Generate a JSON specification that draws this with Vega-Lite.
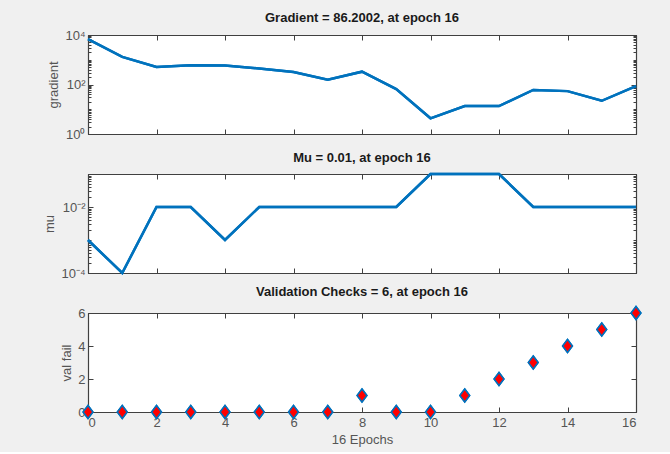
{
  "$schema": "https://vega.github.io/schema/vega-lite/v6.json",
  "background": "#f0f0f0",
  "padding": {"left": 43, "top": 11, "right": 30, "bottom": 5},
  "spacing": 40,
  "bounds": "flush",
  "data": {"values": [
    {"epoch": 0, "gradient": 6800, "mu": 0.001, "valfail": 0},
    {"epoch": 1, "gradient": 1300, "mu": 0.0001, "valfail": 0},
    {"epoch": 2, "gradient": 510, "mu": 0.01, "valfail": 0},
    {"epoch": 3, "gradient": 600, "mu": 0.01, "valfail": 0},
    {"epoch": 4, "gradient": 580, "mu": 0.001, "valfail": 0},
    {"epoch": 5, "gradient": 440, "mu": 0.01, "valfail": 0},
    {"epoch": 6, "gradient": 320, "mu": 0.01, "valfail": 0},
    {"epoch": 7, "gradient": 155, "mu": 0.01, "valfail": 0},
    {"epoch": 8, "gradient": 330, "mu": 0.01, "valfail": 1},
    {"epoch": 9, "gradient": 65, "mu": 0.01, "valfail": 0},
    {"epoch": 10, "gradient": 4.3, "mu": 0.1, "valfail": 0},
    {"epoch": 11, "gradient": 13.4, "mu": 0.1, "valfail": 1},
    {"epoch": 12, "gradient": 13.5, "mu": 0.1, "valfail": 2},
    {"epoch": 13, "gradient": 60, "mu": 0.01, "valfail": 3},
    {"epoch": 14, "gradient": 54, "mu": 0.01, "valfail": 4},
    {"epoch": 15, "gradient": 22, "mu": 0.01, "valfail": 5},
    {"epoch": 16, "gradient": 86.2002, "mu": 0.01, "valfail": 6}
  ]},
  "config": {
    "view": {"stroke": "#404040", "strokeWidth": 1, "fill": "white"},
    "axis": {
      "domainColor": "#404040", "tickColor": "#404040", "domainWidth": 1.2,
      "labelColor": "#555555", "titleColor": "#555555",
      "labelFont": "Liberation Sans", "titleFont": "Liberation Sans",
      "labelFontSize": 13, "titleFontSize": 13, "titleFontWeight": "normal",
      "grid": false, "tickSize": -5, "labelPadding": 8, "titlePadding": 4
    },
    "title": {"font": "Liberation Sans", "fontSize": 13, "fontWeight": "bold", "color": "#1a1a1a", "offset": 4}
  },
  "vconcat": [
    {
      "width": 548, "height": 99,
      "title": "Gradient = 86.2002, at epoch 16",
      "resolve": {"axis": {"x": "independent", "y": "independent"}},
      "layer": [
        {
          "mark": {"type": "line", "color": "#0072BD", "strokeWidth": 2.5},
          "encoding": {
            "x": {"field": "epoch", "type": "quantitative", "scale": {"domain": [0, 16], "nice": false},
                  "axis": {"orient": "bottom", "values": [0, 2, 4, 6, 8, 10, 12, 14, 16], "labels": false, "title": null}},
            "y": {"field": "gradient", "type": "quantitative", "scale": {"type": "log", "domain": [1, 10000], "nice": false},
                  "axis": {"orient": "left", "title": "gradient",
                           "values": [1, 2, 3, 4, 5, 6, 7, 8, 9, 10, 20, 30, 40, 50, 60, 70, 80, 90, 100, 200, 300, 400, 500, 600, 700, 800, 900, 1000, 2000, 3000, 4000, 5000, 6000, 7000, 8000, 9000, 10000],
                           "labelExpr": "datum.value == 1 ? '10⁰' : datum.value == 100 ? '10²' : datum.value == 10000 ? '10⁴' : ''",
                           "tickSize": {"condition": {"test": "datum.value == 1 || datum.value == 100 || datum.value == 10000", "value": -5}, "value": -3}}}
          }
        },
        {
          "mark": {"type": "line", "color": "#0072BD", "strokeWidth": 2.5},
          "encoding": {
            "x": {"field": "epoch", "type": "quantitative",
                  "axis": {"orient": "top", "values": [0, 2, 4, 6, 8, 10, 12, 14, 16], "labels": false, "title": null}},
            "y": {"field": "gradient", "type": "quantitative",
                  "axis": {"orient": "right", "title": null, "labels": false,
                           "values": [1, 2, 3, 4, 5, 6, 7, 8, 9, 10, 20, 30, 40, 50, 60, 70, 80, 90, 100, 200, 300, 400, 500, 600, 700, 800, 900, 1000, 2000, 3000, 4000, 5000, 6000, 7000, 8000, 9000, 10000],
                           "tickSize": {"condition": {"test": "datum.value == 1 || datum.value == 100 || datum.value == 10000", "value": -5}, "value": -3}}}
          }
        }
      ]
    },
    {
      "width": 548, "height": 99,
      "title": "Mu = 0.01, at epoch 16",
      "resolve": {"axis": {"x": "independent", "y": "independent"}},
      "layer": [
        {
          "mark": {"type": "line", "color": "#0072BD", "strokeWidth": 2.5},
          "encoding": {
            "x": {"field": "epoch", "type": "quantitative", "scale": {"domain": [0, 16], "nice": false},
                  "axis": {"orient": "bottom", "values": [0, 2, 4, 6, 8, 10, 12, 14, 16], "labels": false, "title": null}},
            "y": {"field": "mu", "type": "quantitative", "scale": {"type": "log", "domain": [0.0001, 0.1], "nice": false},
                  "axis": {"orient": "left", "title": "mu",
                           "values": [0.0001, 0.0002, 0.0003, 0.0004, 0.0005, 0.0006, 0.0007, 0.0008, 0.0009, 0.001, 0.002, 0.003, 0.004, 0.005, 0.006, 0.007, 0.008, 0.009, 0.01, 0.02, 0.03, 0.04, 0.05, 0.06, 0.07, 0.08, 0.09, 0.1],
                           "labelExpr": "datum.value == 0.0001 ? '10⁻⁴' : datum.value == 0.01 ? '10⁻²' : ''",
                           "tickSize": {"condition": {"test": "datum.value == 0.0001 || datum.value == 0.01", "value": -5}, "value": -3}}}
          }
        },
        {
          "mark": {"type": "line", "color": "#0072BD", "strokeWidth": 2.5},
          "encoding": {
            "x": {"field": "epoch", "type": "quantitative",
                  "axis": {"orient": "top", "values": [0, 2, 4, 6, 8, 10, 12, 14, 16], "labels": false, "title": null}},
            "y": {"field": "mu", "type": "quantitative",
                  "axis": {"orient": "right", "title": null, "labels": false,
                           "values": [0.0001, 0.0002, 0.0003, 0.0004, 0.0005, 0.0006, 0.0007, 0.0008, 0.0009, 0.001, 0.002, 0.003, 0.004, 0.005, 0.006, 0.007, 0.008, 0.009, 0.01, 0.02, 0.03, 0.04, 0.05, 0.06, 0.07, 0.08, 0.09, 0.1],
                           "tickSize": {"condition": {"test": "datum.value == 0.0001 || datum.value == 0.01", "value": -5}, "value": -3}}}
          }
        }
      ]
    },
    {
      "width": 548, "height": 99,
      "title": "Validation Checks = 6, at epoch 16",
      "resolve": {"axis": {"x": "independent", "y": "independent"}},
      "layer": [
        {
          "mark": {"type": "point", "shape": "M0,-1L0.75,0L0,1L-0.75,0Z", "size": 170, "filled": true, "fill": "#ff0000", "stroke": "#0072BD", "strokeWidth": 1.5, "opacity": 1},
          "encoding": {
            "x": {"field": "epoch", "type": "quantitative", "scale": {"domain": [0, 16], "nice": false},
                  "axis": {"orient": "bottom", "values": [0, 2, 4, 6, 8, 10, 12, 14, 16], "title": "16 Epochs", "labelPadding": 9, "titlePadding": 4}},
            "y": {"field": "valfail", "type": "quantitative", "scale": {"domain": [0, 6], "nice": false},
                  "axis": {"orient": "left", "title": "val fail", "values": [0, 2, 4, 6]}}
          }
        },
        {
          "mark": {"type": "point", "shape": "M0,-1L0.75,0L0,1L-0.75,0Z", "size": 170, "filled": true, "fill": "#ff0000", "stroke": "#0072BD", "strokeWidth": 1.5, "opacity": 1},
          "encoding": {
            "x": {"field": "epoch", "type": "quantitative",
                  "axis": {"orient": "top", "values": [0, 2, 4, 6, 8, 10, 12, 14, 16], "labels": false, "title": null}},
            "y": {"field": "valfail", "type": "quantitative",
                  "axis": {"orient": "right", "title": null, "labels": false, "values": [0, 2, 4, 6]}}
          }
        }
      ]
    }
  ]
}
